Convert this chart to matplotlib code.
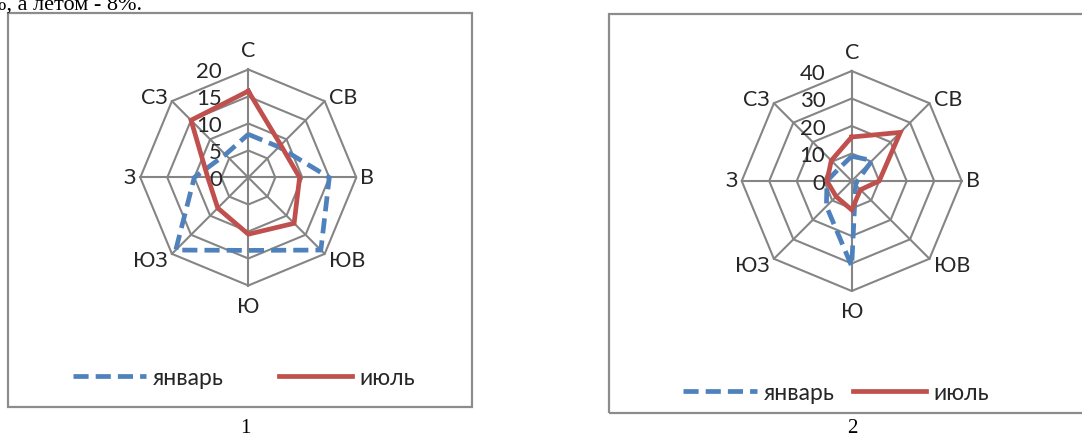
import numpy as np
import matplotlib
matplotlib.use("Agg")
import matplotlib.pyplot as plt
from matplotlib.patches import Rectangle

directions = ["С", "СВ", "В", "ЮВ", "Ю", "ЮЗ", "З", "СЗ"]

# chart 1
jan_1 = [8, 8, 15, 19, 13.5, 19, 10, 6]
jul_1 = [16, 8.5, 9.5, 12, 10.5, 8, 7.5, 15]
ticks_1 = [0, 5, 10, 15, 20]

# chart 2
jan_2 = [9, 10.5, 2, 2, 31, 13, 9, 6.5]
jul_2 = [16, 25, 10, 4.5, 10.5, 8, 9, 10.5]
ticks_2 = [0, 10, 20, 30, 40]

series_names = ["январь", "июль"]

W, H = 1082, 440
BLUE = "#4F81BD"
RED = "#C0504D"
GRID = "#858585"
FONT = "Lato"
TXT = "#262626"

fig = plt.figure(figsize=(W / 100, H / 100), dpi=100)

# label placement around the rose: (dx, dy) in points, ha, va
label_pos = [
    ((0, 6), "center", "bottom"),
    ((3, 2), "left", "center"),
    ((3, 0), "left", "center"),
    ((3, -5), "left", "center"),
    ((0, -8), "center", "top"),
    ((-3, -5), "right", "center"),
    ((-3, 0), "right", "center"),
    ((-3, 2), "right", "center"),
]


def radar(cx, cy, radius, jan, jul, ticks):
    vmax = ticks[-1]
    half = radius * 1.6
    ax = fig.add_axes([(cx - half) / W, (H - cy - half) / H, 2 * half / W, 2 * half / H])
    lim = vmax * 1.6
    ax.set_xlim(-lim, lim)
    ax.set_ylim(-lim, lim)
    ax.axis("off")

    n = len(directions)
    ang = np.arange(n) * 2 * np.pi / n
    sx, sy = np.sin(ang), np.cos(ang)
    loop = np.append(np.arange(n), 0)

    for t in ticks[1:]:
        ax.plot(t * sx[loop], t * sy[loop], color=GRID, lw=1.5, zorder=1)
    for i in range(n):
        ax.plot([0, vmax * sx[i]], [0, vmax * sy[i]], color=GRID, lw=1.5, zorder=1)

    j = np.array(jan)[loop]
    r = np.array(jul)[loop]
    l1, = ax.plot(j * sx[loop], j * sy[loop], color=BLUE, lw=3.4, ls=(0, (3.2, 1.5)),
                  zorder=3, label=series_names[0])
    l2, = ax.plot(r * sx[loop], r * sy[loop], color=RED, lw=3.4, zorder=4,
                  solid_joinstyle="miter", label=series_names[1])

    for i, name in enumerate(directions):
        off, ha, va = label_pos[i]
        ax.annotate(name, xy=(vmax * sx[i], vmax * sy[i]), xytext=off,
                    textcoords="offset points", ha=ha, va=va,
                    fontsize=15.5, family=FONT, color=TXT)

    for t in ticks:
        ax.annotate(str(t), xy=(0, t), xytext=(-19, -2), textcoords="offset points",
                    ha="right", va="center", fontsize=16, family=FONT,
                    color=TXT, zorder=2)
    return ax, [l1, l2]


ax1, h1 = radar(248.3, 177.5, 108, jan_1, jul_1, ticks_1)
ax2, h2 = radar(851.7, 181, 110, jan_2, jul_2, ticks_2)

leg1 = ax1.legend(handles=h1, loc="center", bbox_to_anchor=(244 / W, 1 - 378 / H),
                  bbox_transform=fig.transFigure, ncol=2, frameon=False,
                  prop={"family": FONT, "size": 16.5}, handlelength=3.2,
                  handletextpad=0.3, columnspacing=2.4)
leg2 = ax2.legend(handles=h2, loc="center", bbox_to_anchor=(836 / W, 1 - 393 / H),
                  bbox_transform=fig.transFigure, ncol=2, frameon=False,
                  prop={"family": FONT, "size": 16.5}, handlelength=3.2,
                  handletextpad=0.3, columnspacing=0.8)
for leg in (leg1, leg2):
    for txt in leg.get_texts():
        txt.set_color(TXT)

# chart frames
fig.patches.append(Rectangle((8 / W, (H - 407) / H), (472 - 8) / W, (407 - 13) / H,
                             transform=fig.transFigure, fill=False, ec="#8c8c8c", lw=1.6))
fig.patches.append(Rectangle((609 / W, (H - 413) / H), (1090 - 609) / W, (413 - 14) / H,
                             transform=fig.transFigure, fill=False, ec="#8c8c8c", lw=1.6))

fig.text(245 / W, 1 - 428 / H, "1", ha="center", va="center",
         family="Liberation Serif", fontsize=15)
fig.text(852 / W, 1 - 428 / H, "2", ha="center", va="center",
         family="Liberation Serif", fontsize=15)
fig.text(-12 / W, 1 - 10 / H, "%, а летом - 8%.", ha="left", va="baseline",
         family="Liberation Serif", fontsize=16)

fig.savefig("out.png", dpi=100)
